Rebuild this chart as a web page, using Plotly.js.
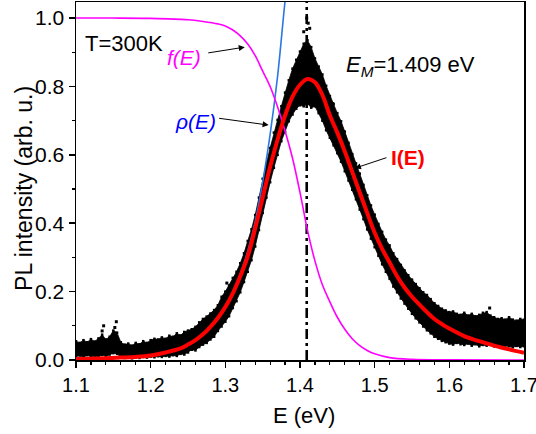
<!DOCTYPE html>
<html>
<head>
<meta charset="utf-8">
<script src="https://cdn.plot.ly/plotly-3.0.1.min.js"></script>
<style>html,body{margin:0;padding:0;background:#fff;}#chart{width:536px;height:434px;}</style>
</head>
<body>
<div id="chart"></div>
<script>
const E_data = [1.100,1.105,1.110,1.115,1.120,1.125,1.130,1.135,1.140,1.145,1.150,1.155,1.160,1.165,1.170,1.175,1.180,1.185,1.190,1.195,1.200,1.205,1.210,1.215,1.220,1.225,1.230,1.235,1.240,1.245,1.250,1.255,1.260,1.265,1.270,1.275,1.280,1.285,1.290,1.295,1.300,1.305,1.310,1.315,1.320,1.325,1.330,1.335,1.340,1.345,1.350,1.355,1.360,1.365,1.370,1.375,1.380,1.385,1.390,1.395,1.400,1.405,1.410,1.415,1.420,1.425,1.430,1.435,1.440,1.445,1.450,1.455,1.460,1.465,1.470,1.475,1.480,1.485,1.490,1.495,1.500,1.505,1.510,1.515,1.520,1.525,1.530,1.535,1.540,1.545,1.550,1.555,1.560,1.565,1.570,1.575,1.580,1.585,1.590,1.595,1.600,1.605,1.610,1.615,1.620,1.625,1.630,1.635,1.640,1.645,1.650,1.655,1.660,1.665,1.670,1.675,1.680,1.685,1.690,1.695,1.700];
const PL_lo = [.010,.013,.008,.014,.010,.012,.009,.015,.011,.016,.020,.018,.008,.006,.007,.005,.008,.006,.009,.007,.010,.008,.011,.009,.012,.010,.014,.012,.018,.016,.022,.030,.028,.038,.045,.050,.060,.068,.085,.098,.112,.128,.152,.172,.198,.228,.258,.292,.332,.380,.430,.475,.520,.562,.600,.640,.668,.698,.718,.735,.745,.742,.750,.738,.742,.722,.700,.672,.650,.628,.605,.580,.552,.525,.498,.470,.440,.412,.382,.355,.330,.305,.280,.258,.238,.215,.198,.180,.165,.150,.135,.122,.110,.098,.087,.078,.068,.062,.056,.052,.048,.045,.050,.046,.044,.048,.042,.046,.040,.044,.042,.045,.040,.043,.038,.042,.040,.037,.041,.038,.040];
const PL_hi = [.055,.050,.058,.052,.061,.054,.063,.074,.060,.068,.086,.080,.052,.045,.048,.042,.050,.046,.055,.050,.058,.062,.060,.066,.062,.071,.068,.078,.072,.082,.086,.090,.097,.110,.120,.127,.136,.146,.160,.185,.200,.218,.240,.258,.283,.312,.348,.382,.424,.475,.530,.575,.620,.665,.702,.742,.782,.818,.852,.878,.902,.925,.935,.915,.882,.858,.835,.802,.772,.748,.722,.698,.668,.635,.602,.575,.545,.512,.482,.452,.425,.398,.375,.352,.335,.312,.295,.278,.262,.248,.235,.222,.210,.198,.190,.178,.166,.158,.150,.145,.140,.142,.135,.132,.138,.130,.135,.128,.132,.138,.140,.130,.125,.120,.122,.118,.125,.118,.115,.120,.118];
// isolated outlier points
const E_out = [1.135,1.137,1.152,1.154,1.302,1.405,1.409,1.411,1.413,1.427,1.444,1.654];
const PL_out = [0.085,0.100,0.095,0.112,0.225,0.960,1.000,0.985,0.970,0.800,0.750,0.152];

// Fitted PL line shape I(E)
const E_fit = [1.10,1.12,1.14,1.16,1.18,1.20,1.22,1.24,1.25,1.26,1.27,1.28,1.29,1.30,1.31,1.32,1.33,1.34,1.35,1.36,1.37,1.38,1.39,1.40,1.41,1.42,1.43,1.44,1.45,1.46,1.47,1.48,1.49,1.50,1.51,1.52,1.53,1.54,1.55,1.56,1.57,1.58,1.59,1.60,1.62,1.64,1.66,1.68,1.70];
const I_fit = [0.003,0.004,0.005,0.007,0.009,0.013,0.022,0.034,0.045,0.058,0.075,0.097,0.123,0.155,0.195,0.245,0.303,0.385,0.475,0.565,0.645,0.715,0.77,0.805,0.822,0.812,0.775,0.715,0.665,0.61,0.55,0.49,0.43,0.372,0.325,0.285,0.245,0.212,0.185,0.162,0.14,0.12,0.105,0.092,0.07,0.055,0.042,0.031,0.021];

// Density of states rho(E)
const E_rho = [1.10,1.15,1.20,1.24,1.27,1.30,1.31,1.32,1.33,1.34,1.35,1.36,1.37,1.38,1.385];
const rho = [0.003,0.007,0.013,0.034,0.076,0.157,0.198,0.252,0.318,0.405,0.52,0.66,0.83,1.05,1.14];

// Fermi function f(E), T = 300 K
const E_f = [1.10,1.15,1.20,1.25,1.27,1.29,1.30,1.31,1.32,1.33,1.34,1.35,1.36,1.37,1.38,1.39,1.40,1.41,1.42,1.43,1.44,1.45,1.46,1.47,1.48,1.49,1.50,1.52,1.55,1.60,1.70];
const f_E = [1.0,1.0,0.999,0.995,0.99,0.983,0.977,0.965,0.948,0.924,0.89,0.845,0.80,0.74,0.67,0.59,0.49,0.38,0.29,0.22,0.17,0.125,0.09,0.062,0.042,0.028,0.018,0.007,0.002,0.0005,0.0];

const EM = 1.409;
const xTicks = [1.1,1.2,1.3,1.4,1.5,1.6,1.7];
const yTicks = [0.0,0.2,0.4,0.6,0.8,1.0];

const FONT = "Arial, 'Liberation Sans', sans-serif";

const traces = [
  {x:E_data, y:PL_lo, mode:'lines+markers', line:{color:'#000',width:0.8}, marker:{color:'#000',size:2.5,symbol:'square'}, hoverinfo:'skip'},
  {x:E_data, y:PL_hi, mode:'lines+markers', fill:'tonexty', fillcolor:'#000', line:{color:'#000',width:0.8}, marker:{color:'#000',size:2.5,symbol:'square'}, hoverinfo:'skip'},
  {x:E_out, y:PL_out, mode:'markers', marker:{color:'#000',size:3,symbol:'square'}},
  {x:E_rho, y:rho, mode:'lines', line:{color:'#2a78e0',width:1.6,shape:'spline'}},
  {x:E_f, y:f_E, mode:'lines', line:{color:'#ff00ff',width:1.6,shape:'spline'}},
  {x:E_fit, y:I_fit, mode:'lines', line:{color:'#ff0000',width:4,shape:'spline'}}
];

const arrow = {showarrow:true, arrowhead:2, arrowsize:1.2, arrowwidth:1, arrowcolor:'#000', axref:'pixel', ayref:'pixel', text:''};
const lbl = (x, y, text, size, color, extra) => Object.assign({xref:'paper', yref:'paper', x:x, y:y, xanchor:'center', yanchor:'middle', text:text, showarrow:false, font:{size:size, color:color, family:FONT}}, extra||{});

const layout = {
  width:536, height:434,
  margin:{l:76, r:12, t:2, b:74},
  paper_bgcolor:'#fff', plot_bgcolor:'#fff',
  showlegend:false,
  font:{family:FONT, color:'#000'},
  xaxis:{range:[1.1,1.7], tickvals:xTicks, ticktext:xTicks.map(v=>v.toFixed(1)), ticks:'outside', ticklen:6, tickwidth:1.5, tickcolor:'#000',
    showline:true, linecolor:'#000', linewidth:1.5, mirror:true, showgrid:false, zeroline:false, ticklabeloverflow:'allow',
    minor:{dtick:0.02, tick0:1.1, ticks:'outside', ticklen:3, tickwidth:1.2, tickcolor:'#000', showgrid:false},
    tickfont:{size:20, family:FONT}},
  yaxis:{range:[0,1.047], tickvals:yTicks, ticktext:yTicks.map(v=>v.toFixed(1)), ticks:'outside', ticklen:6, tickwidth:1.5, tickcolor:'#000',
    showline:true, linecolor:'#000', linewidth:1.5, mirror:true, showgrid:false, zeroline:false, ticklabeloverflow:'allow',
    minor:{dtick:0.1, tick0:0, ticks:'outside', ticklen:3, tickwidth:1.2, tickcolor:'#000', showgrid:false},
    tickfont:{size:21, family:FONT}},
  shapes:[{type:'line', xref:'x', yref:'paper', x0:EM, x1:EM, y0:0, y1:1, layer:'below', line:{color:'#000', width:2.6, dash:'10px,4px,3px,4px'}}],
  annotations:[
    lbl(0.509, -0.156, 'E (eV)', 22, '#000'),
    lbl(-0.116, 0.478, 'PL intensity (arb. u.)', 23, '#000', {textangle:-90}),
    lbl(0.107, 0.883, 'T=300K', 22, '#000'),
    lbl(0.241, 0.844, '<i>f(E)</i>', 21, '#ff00ff'),
    lbl(0.266, 0.665, '<i>ρ(E)</i>', 21, '#0000ff'),
    lbl(0.741, 0.567, '<b>I(E)</b>', 21, '#ff0000'),
    lbl(0.746, 0.821, '<i>E</i><sub><i>M</i></sub>='+EM.toFixed(3)+' eV', 22, '#000'),
    Object.assign({x:1.326, y:0.915, ax:-38, ay:6}, arrow),
    Object.assign({x:1.358, y:0.687, ax:-51, ay:-7}, arrow),
    Object.assign({x:1.4736, y:0.561, ax:33, ay:-11}, arrow)
  ]
};

Plotly.newPlot('chart', traces, layout, {displayModeBar:false, staticPlot:true});
</script>
</body>
</html>
